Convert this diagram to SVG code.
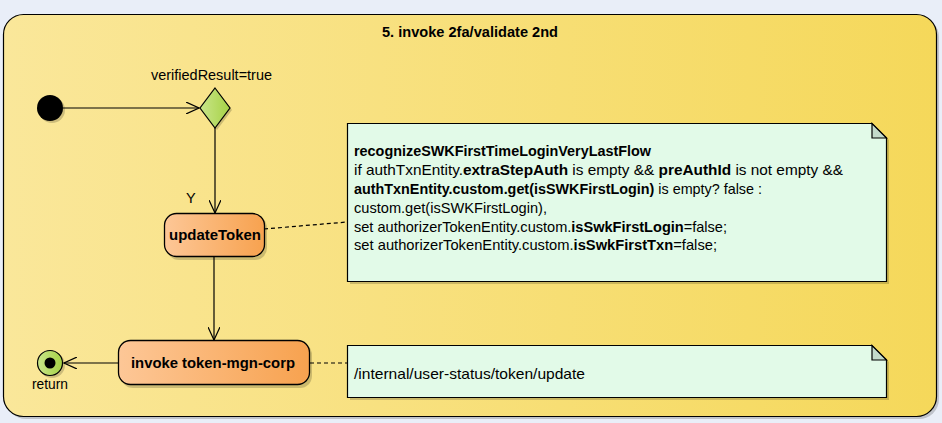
<svg xmlns="http://www.w3.org/2000/svg" width="942" height="423" viewBox="0 0 942 423">
<style>
text{font-family:"Liberation Sans",Arial,sans-serif;font-size:14.5px;fill:#000}
.b{font-weight:bold}
.n{font-size:15px;font-weight:bold}
.edge{fill:none;stroke:#000;stroke-width:1.2}
.dash{fill:none;stroke:#000;stroke-width:1.2;stroke-dasharray:4,3}
.act{stroke:#000;stroke-width:1.3;fill:url(#og)}
.note{fill:#E2FAE8;stroke:#000;stroke-width:1.2}
.fold{fill:#C3DACB;stroke:#000;stroke-width:1.2}
.sh{fill:#000;opacity:0.18}
</style>
<defs>
<linearGradient id="yg" x1="0" y1="0" x2="1" y2="0">
<stop offset="0" stop-color="#FAE79A"/>
<stop offset="1" stop-color="#F5D85A"/>
</linearGradient>
<linearGradient id="og" x1="0" y1="0" x2="1" y2="0">
<stop offset="0" stop-color="#FDC797"/>
<stop offset="1" stop-color="#F7A24F"/>
</linearGradient>
<linearGradient id="gg" x1="0" y1="0" x2="1" y2="0">
<stop offset="0" stop-color="#C9E58A"/>
<stop offset="1" stop-color="#A6D245"/>
</linearGradient>
<marker id="arr" markerWidth="14" markerHeight="12" refX="13" refY="6" orient="auto" markerUnits="userSpaceOnUse">
<path d="M0,0 L13,6 L0,12" fill="none" stroke="#000" stroke-width="1.2"/>
</marker>
</defs>
<rect width="942" height="423" fill="#E9EEF8"/>
<g id="frame">
<rect x="6" y="17" width="933" height="402" rx="20" class="sh"/>
<rect x="3.5" y="14.5" width="933" height="402" rx="20" fill="url(#yg)" stroke="#000" stroke-width="1.2"/>
<text x="470" y="37" text-anchor="middle" class="b" textLength="176" lengthAdjust="spacingAndGlyphs">5. invoke 2fa/validate 2nd</text>
</g>
<g id="connectors">
<path class="edge" d="M63,108 L199,108" marker-end="url(#arr)"/>
<path class="edge" d="M215,128 L215,213" marker-end="url(#arr)"/>
<text x="186" y="203">Y</text>
<path class="edge" d="M214,257 L214,340" marker-end="url(#arr)"/>
<path class="edge" d="M118,363 L64,363" marker-end="url(#arr)"/>
<path class="dash" d="M264,229 L347,222"/>
<path class="dash" d="M310,363 L347,363"/>
</g>
<g id="start">
<circle cx="52" cy="110" r="13" class="sh"/>
<circle cx="50" cy="108" r="13" fill="#000"/>
</g>
<g id="decision">
<path d="M217,90 L232,110 L217,130 L202,110 Z" class="sh"/>
<path d="M215,88 L230,108 L215,128 L200,108 Z" fill="url(#gg)" stroke="#000" stroke-width="1.2"/>
<text x="151" y="80" textLength="121" lengthAdjust="spacingAndGlyphs">verifiedResult=true</text>
</g>
<g id="updateToken">
<rect x="167" y="216" width="100" height="44" rx="12" class="sh"/>
<rect x="164.5" y="213.5" width="100" height="43" rx="12" class="act"/>
<text x="169" y="240" class="n" textLength="92" lengthAdjust="spacingAndGlyphs">updateToken</text>
</g>
<g id="invoke">
<rect x="121" y="343" width="191" height="45" rx="12" class="sh"/>
<rect x="118.5" y="340.5" width="191" height="44" rx="12" class="act"/>
<text x="131" y="368" class="n" textLength="164" lengthAdjust="spacingAndGlyphs">invoke token-mgn-corp</text>
</g>
<g id="final">
<circle cx="52" cy="365" r="13" class="sh"/>
<circle cx="50" cy="363" r="12.5" fill="url(#gg)" stroke="#000" stroke-width="1.2"/>
<circle cx="50" cy="363" r="5.5" fill="#000"/>
<text x="32" y="389" textLength="36" lengthAdjust="spacingAndGlyphs">return</text>
</g>
<g id="note1">
<path d="M350,126 L875,126 L889,140 L889,284 L350,284 Z" class="sh"/>
<path d="M347.5,123.5 L872,123.5 L886.5,138 L886.5,281.5 L347.5,281.5 Z" class="note"/>
<path d="M872,123.5 L872,138 L886.5,138 Z" class="fold"/>
<text x="354" y="156" class="b" textLength="297" lengthAdjust="spacingAndGlyphs">recognizeSWKFirstTimeLoginVeryLastFlow</text>
<text x="354" y="175" textLength="489" lengthAdjust="spacingAndGlyphs">if authTxnEntity.<tspan class="b">extraStepAuth</tspan> is empty &amp;&amp; <tspan class="b">preAuthId</tspan> is not empty &amp;&amp;</text>
<text x="354" y="194" textLength="408" lengthAdjust="spacingAndGlyphs"><tspan class="b">authTxnEntity.custom.get(isSWKFirstLogin)</tspan> is empty? false :</text>
<text x="354" y="213" textLength="193" lengthAdjust="spacingAndGlyphs">custom.get(isSWKFirstLogin),</text>
<text x="354" y="232" textLength="373" lengthAdjust="spacingAndGlyphs">set authorizerTokenEntity.custom.<tspan class="b">isSwkFirstLogin</tspan>=false;</text>
<text x="354" y="250" textLength="363" lengthAdjust="spacingAndGlyphs">set authorizerTokenEntity.custom.<tspan class="b">isSwkFirstTxn</tspan>=false;</text>
</g>
<g id="note2">
<path d="M350,348 L875,348 L889,362 L889,400 L350,400 Z" class="sh"/>
<path d="M347.5,345.5 L872,345.5 L886.5,360 L886.5,397.5 L347.5,397.5 Z" class="note"/>
<path d="M872,345.5 L872,360 L886.5,360 Z" class="fold"/>
<text x="354" y="379" textLength="231" lengthAdjust="spacingAndGlyphs">/internal/user-status/token/update</text>
</g>
</svg>
